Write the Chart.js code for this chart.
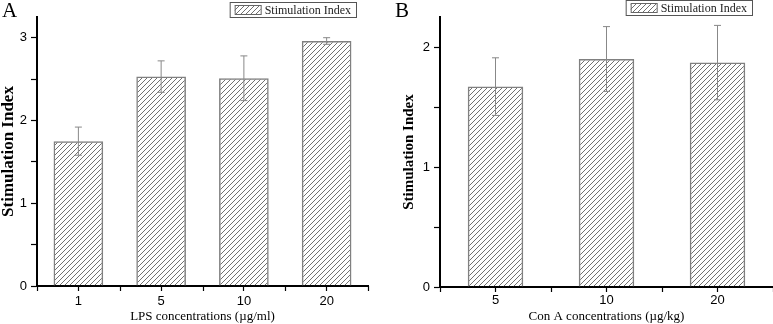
<!DOCTYPE html>
<html>
<head>
<meta charset="utf-8">
<script src="https://cdn.jsdelivr.net/npm/chart.js@4.4.1/dist/chart.umd.min.js"></script>
<style>
    html, body { margin: 0; padding: 0; background: #fff; }
    #wrap { position: relative; width: 773px; height: 324px; }
    #chartA { position: absolute; left: 0; top: 0; }
    #chartB { position: absolute; left: 390px; top: 0; }
</style>
</head>
<body>
<div id="wrap">
    <canvas id="chartA" width="386" height="324"></canvas>
    <canvas id="chartB" width="383" height="324"></canvas>
</div>
<script>
// panel A: LPS
const lpsLabels = ['1', '5', '10', '20'];
const lpsValues = [1.75, 2.53, 2.51, 2.96];
const lpsErrors = [0.17, 0.19, 0.27, 0.04];

// panel B: Con A
const conALabels = ['5', '10', '20'];
const conAValues = [1.67, 1.90, 1.87];
const conAErrors = [0.24, 0.27, 0.31];

const seriesName = 'Stimulation Index';

function makeHatch(){
    const size = 5;
    const c = document.createElement('canvas');
    c.width = size;
    c.height = size;
    const g = c.getContext('2d');
    g.strokeStyle = '#333';
    g.lineWidth = 0.7;
    g.beginPath();
    g.moveTo(0, size); g.lineTo(size, 0);
    g.moveTo(-1, 1); g.lineTo(1, -1);
    g.moveTo(size - 1, size + 1); g.lineTo(size + 1, size - 1);
    g.stroke();
    return g.createPattern(c, 'repeat');
}
const hatch = makeHatch();

// error bars, read from dataset.errors
const errorBars = {
    id: 'errorBars',
    afterDatasetsDraw(chart) {
        const ctx = chart.ctx;
        const yScale = chart.scales.y;
        chart.data.datasets.forEach((ds, di) => {
            const meta = chart.getDatasetMeta(di);
            meta.data.forEach((bar, i) => {
                const v = ds.data[i], e = ds.errors[i];
                const yTop = yScale.getPixelForValue(v + e);
                const yBot = yScale.getPixelForValue(v - e);
                const w = 3.5;
                ctx.save();
                ctx.strokeStyle = '#888';
                ctx.lineWidth = 1;
                ctx.beginPath();
                ctx.moveTo(bar.x, yTop); ctx.lineTo(bar.x, yBot);
                ctx.moveTo(bar.x - w, yTop); ctx.lineTo(bar.x + w, yTop);
                ctx.moveTo(bar.x - w, yBot); ctx.lineTo(bar.x + w, yBot);
                ctx.stroke();
                ctx.restore();
            });
        });
    }
};

// minor ticks between categories, boxed legend and panel letter
const panelDeco = {
    id: 'panelDeco',
    afterDraw(chart, args, opts) {
        const ctx = chart.ctx;
        const x = chart.scales.x;
        ctx.save();
        ctx.strokeStyle = '#000';
        ctx.lineWidth = 1.2;
        ctx.beginPath();
        for (let i = 0; i <= chart.data.labels.length; i++) {
            const px = Math.round(x.getPixelForValue(i - 0.5)) + 0.5;
            ctx.moveTo(px, x.top);
            ctx.lineTo(px, x.top + 5);
        }
        ctx.stroke();

        // legend
        const ds = chart.data.datasets[0];
        ctx.font = '12px "Liberation Serif"';
        const tw = ctx.measureText(ds.label).width;
        const sw = 26, sh = 9, padL = 5, gap = 4, padR = 5;
        const w = padL + sw + gap + tw + padR;
        const lx = opts.legendRight - w, ly = opts.legendTop, lh = opts.legendHeight;
        ctx.lineWidth = 1;
        ctx.strokeStyle = '#555';
        ctx.strokeRect(lx + 0.5, ly + 0.5, w, lh);
        const sy = ly + (lh - sh) / 2 + 0.5;
        ctx.fillStyle = ds.backgroundColor;
        ctx.fillRect(lx + padL, sy, sw, sh);
        ctx.strokeStyle = '#666';
        ctx.strokeRect(lx + padL + 0.5, sy, sw, sh);
        ctx.fillStyle = '#222';
        ctx.textBaseline = 'middle';
        ctx.fillText(ds.label, lx + padL + sw + gap, ly + lh / 2 + 1);

        // letter
        ctx.font = '21px "Liberation Serif"';
        ctx.textBaseline = 'alphabetic';
        ctx.fillStyle = '#000';
        ctx.fillText(opts.letter, opts.letterX, 17);
        ctx.restore();
    }
};

function createPanel(canvasId, labels, values, errors, cfg){
    const ctx = document.getElementById(canvasId);
    return new Chart(ctx, {
        type: 'bar',
        data: {
            labels: labels,
            datasets: [{
                label: seriesName,
                data: values,
                errors: errors,
                backgroundColor: hatch,
                borderColor: '#808080',
                borderWidth: 1.5,
                categoryPercentage: 1,
                barPercentage: cfg.barPercentage
            }]
        },
        options: {
            responsive: false,
            animation: false,
            devicePixelRatio: 1,
            layout: { padding: { left: 0, right: cfg.padRight, top: 17, bottom: 0 } },
            plugins: {
                legend: { display: false },
                tooltip: { enabled: false },
                panelDeco: {
                    letter: cfg.letter,
                    letterX: cfg.letterX,
                    legendRight: cfg.legendRight,
                    legendTop: cfg.legendTop,
                    legendHeight: 15
                }
            },
            scales: {
                x: {
                    offset: true,
                    afterFit: function (scale) { scale.height = cfg.xHeight; },
                    grid: { drawOnChartArea: false, offset: false, tickLength: 5, tickColor: '#000', tickWidth: 1.2 },
                    border: { display: true, color: '#000', width: 2 },
                    ticks: {
                        color: '#000',
                        padding: cfg.xTickPad,
                        font: { family: '"Liberation Sans"', size: cfg.tickSize }
                    },
                    title: {
                        display: true,
                        text: cfg.xTitle,
                        color: '#000',
                        padding: { top: 0, bottom: 0 },
                        font: { family: '"Liberation Serif"', size: 13 }
                    }
                },
                y: {
                    min: 0,
                    max: cfg.yMax,
                    afterFit: function (scale) { scale.width = cfg.yWidth; },
                    grid: {
                        drawOnChartArea: false,
                        tickLength: 6,
                        tickWidth: 1.2,
                        tickColor: function (c) {
                            const v = c.tick ? c.tick.value : 0;
                            return Math.abs(v * 2 - Math.round(v * 2)) < 1e-6 ? '#000' : 'rgba(0,0,0,0)';
                        }
                    },
                    border: { display: true, color: '#000', width: 2 },
                    ticks: {
                        stepSize: 0.5,
                        color: '#000',
                        padding: 4,
                        font: { family: '"Liberation Sans"', size: cfg.tickSize },
                        callback: function (v) { return Number.isInteger(v) ? v : ''; }
                    },
                    title: {
                        display: true,
                        text: seriesName,
                        color: '#000',
                        padding: { top: cfg.yTitlePad, bottom: 0 },
                        font: { family: '"Liberation Serif"', size: cfg.yTitleSize, weight: 'bold', lineHeight: 1 }
                    }
                }
            }
        },
        plugins: [errorBars, panelDeco]
    });
}

createPanel('chartA', lpsLabels, lpsValues, lpsErrors, {
    letter: 'A', letterX: 2,
    legendRight: 356, legendTop: 2,
    barPercentage: 0.6, padRight: 18,
    yMax: 3.25, yWidth: 37, xHeight: 38,
    tickSize: 13, xTickPad: 3,
    yTitleSize: 17, yTitlePad: 0,
    xTitle: 'LPS concentrations (\u00b5g/ml)'
});

createPanel('chartB', conALabels, conAValues, conAErrors, {
    letter: 'B', letterX: 5,
    legendRight: 362, legendTop: 0,
    barPercentage: 0.5, padRight: 0,
    yMax: 2.25, yWidth: 50, xHeight: 37,
    tickSize: 13, xTickPad: 1,
    yTitleSize: 15, yTitlePad: 12,
    xTitle: 'Con A concentrations (\u00b5g/kg)'
});
</script>
</body>
</html>
